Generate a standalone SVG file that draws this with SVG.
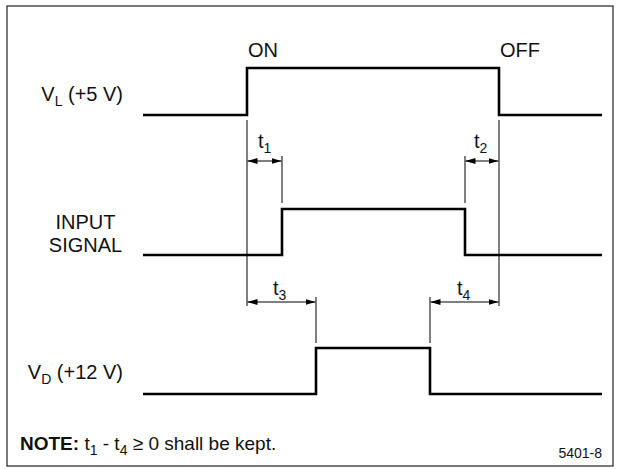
<svg xmlns="http://www.w3.org/2000/svg" width="621" height="469" viewBox="0 0 621 469">
<style>
text{font-family:"Liberation Sans",Arial,sans-serif;fill:#111;}
.lbl{font-size:20px;}
.sub{font-size:14px;}
.sig{fill:none;stroke:#000;stroke-width:2.6;stroke-linejoin:miter;}
.ext{stroke:#000;stroke-width:1;fill:none;}
.dim{stroke:#000;stroke-width:1;fill:none;marker-start:url(#ah);marker-end:url(#ah);}
</style>
<defs>
<marker id="ah" viewBox="0 0 10 6" refX="10" refY="3" markerWidth="10" markerHeight="6" markerUnits="userSpaceOnUse" orient="auto-start-reverse">
<path d="M0,0 L10,3 L0,6 Z" fill="#000"/>
</marker>
</defs>
<rect x="7" y="6" width="606" height="460" fill="#fff" stroke="#333" stroke-width="1.3"/>

<g id="vl">
<text class="lbl" x="123" y="101" text-anchor="end">V<tspan class="sub" dy="5">L</tspan><tspan dy="-5"> (+5 V)</tspan></text>
<polyline class="sig" points="143,115 247,115 247,68 499,68 499,115 602,115"/>
<text class="lbl" x="248" y="57">ON</text>
<text class="lbl" x="500" y="57">OFF</text>
</g>

<g id="input">
<text class="lbl" x="85.5" y="229" text-anchor="middle">INPUT</text>
<text class="lbl" x="85.5" y="252" text-anchor="middle">SIGNAL</text>
<polyline class="sig" points="143,255 282,255 282,209 465,209 465,255 602,255"/>
</g>

<g id="vd">
<text class="lbl" x="123" y="379" text-anchor="end">V<tspan class="sub" dy="5">D</tspan><tspan dy="-5"> (+12 V)</tspan></text>
<polyline class="sig" points="143,394 316,394 316,348 430,348 430,394 602,394"/>
</g>

<g id="connectors">
<line class="ext" x1="247" y1="120" x2="247" y2="306"/>
<line class="ext" x1="499" y1="120" x2="499" y2="306"/>
<line class="ext" x1="282" y1="156" x2="282" y2="203"/>
<line class="ext" x1="465" y1="156" x2="465" y2="203"/>
<line class="ext" x1="316" y1="297" x2="316" y2="343"/>
<line class="ext" x1="430" y1="297" x2="430" y2="343"/>
<line class="dim" x1="247.5" y1="161" x2="281.5" y2="161"/>
<line class="dim" x1="465.5" y1="161" x2="498.5" y2="161"/>
<line class="dim" x1="247.5" y1="302" x2="315.5" y2="302"/>
<line class="dim" x1="430.5" y1="302" x2="498.5" y2="302"/>
</g>

<g id="labels">
<text class="lbl" x="258" y="148">t<tspan class="sub" dy="5">1</tspan></text>
<text class="lbl" x="474" y="148">t<tspan class="sub" dy="5">2</tspan></text>
<text class="lbl" x="273" y="295">t<tspan class="sub" dy="5">3</tspan></text>
<text class="lbl" x="457" y="295">t<tspan class="sub" dy="5">4</tspan></text>
</g>

<g id="note">
<text style="font-size:19px" x="20" y="450"><tspan font-weight="bold">NOTE:</tspan>  t<tspan class="sub" dy="5">1</tspan><tspan dy="-5"> - t</tspan><tspan class="sub" dy="5">4</tspan><tspan dy="-5"> ≥ 0 shall be kept.</tspan></text>
<text style="font-size:14px" x="602" y="458" text-anchor="end">5401-8</text>
</g>
</svg>
